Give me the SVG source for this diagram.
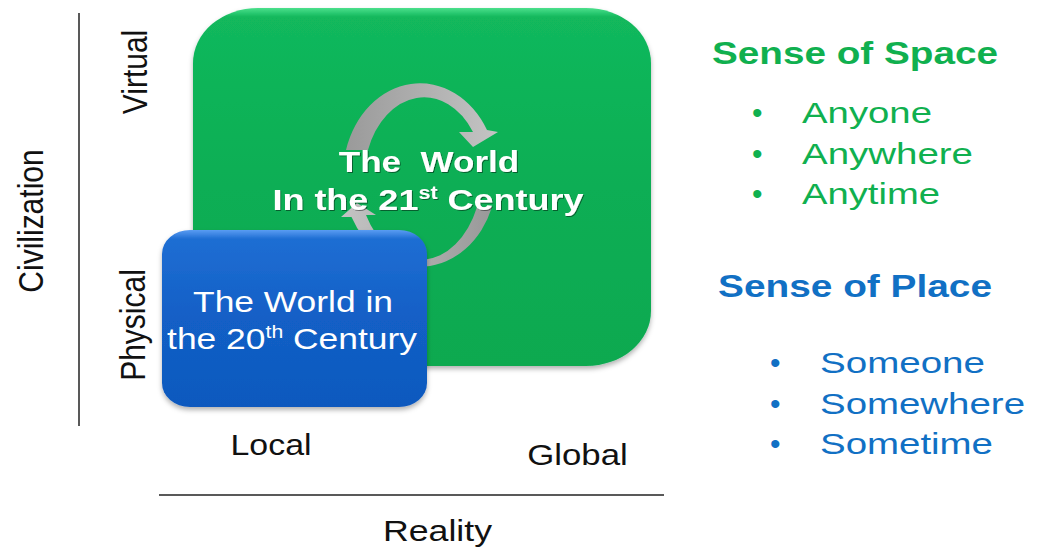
<svg xmlns="http://www.w3.org/2000/svg" width="1042" height="549" viewBox="0 0 1042 549">
<style>
  text { font-family: "Liberation Sans", Arial, sans-serif; }
  .axis { fill: #111111; font-size: 30px; }
  .white { fill: #ffffff; font-size: 30px; }
  .bold { font-weight: bold; }
  .green { fill: #10B04F; }
  .blue { fill: #1170C4; }
  .item { font-size: 30px; }
  .head { font-size: 31px; font-weight: bold; }
  .line { stroke: #222222; stroke-width: 1.5; fill: none; }
</style>
<defs>
  <linearGradient id="gGreen" x1="0" y1="0" x2="0" y2="1">
    <stop offset="0" stop-color="#4BE08C"/>
    <stop offset="0.025" stop-color="#12B85C"/>
    <stop offset="0.5" stop-color="#0AAE54"/>
    <stop offset="1" stop-color="#08A950"/>
  </linearGradient>
  <linearGradient id="gBlue" x1="0" y1="0" x2="0" y2="1">
    <stop offset="0" stop-color="#5A9CF2"/>
    <stop offset="0.05" stop-color="#1F6ED3"/>
    <stop offset="0.5" stop-color="#125FC6"/>
    <stop offset="1" stop-color="#0F59BE"/>
  </linearGradient>
  <linearGradient id="gArrowTop" gradientUnits="userSpaceOnUse" x1="343" y1="0" x2="498" y2="0">
    <stop offset="0" stop-color="#999999"/>
    <stop offset="1" stop-color="#C4C4C4"/>
  </linearGradient>
  <linearGradient id="gArrowBot" gradientUnits="userSpaceOnUse" x1="492" y1="0" x2="340" y2="0">
    <stop offset="0" stop-color="#999999"/>
    <stop offset="1" stop-color="#C4C4C4"/>
  </linearGradient>
  <filter id="boxShadow" x="-10%" y="-10%" width="120%" height="125%">
    <feDropShadow dx="0" dy="3" stdDeviation="2.5" flood-color="#000000" flood-opacity="0.3"/>
  </filter>
  <filter id="txtShadow" x="-5%" y="-20%" width="110%" height="140%">
    <feDropShadow dx="1" dy="1" stdDeviation="0.7" flood-color="#000000" flood-opacity="0.45"/>
  </filter>
</defs>

<g id="axes">
  <line class="line" x1="79" y1="13" x2="79" y2="426"/>
  <line class="line" x1="159" y1="495" x2="664" y2="495"/>
  <text class="axis" text-anchor="middle" transform="translate(43,221) scale(1.17,1) rotate(-90)">Civilization</text>
  <text class="axis" text-anchor="middle" transform="translate(147,72) scale(1.17,1) rotate(-90)">Virtual</text>
  <text class="axis" text-anchor="middle" transform="translate(145,325) scale(1.17,1) rotate(-90)">Physical</text>
  <text class="axis" text-anchor="middle" transform="translate(271,455) scale(1.13,1)">Local</text>
  <text class="axis" text-anchor="middle" transform="translate(577.5,465) scale(1.16,1)">Global</text>
  <text class="axis" text-anchor="middle" transform="translate(437.5,541) scale(1.19,1)">Reality</text>
</g>

<g id="world21">
  <rect x="193" y="8" width="458" height="358" rx="65" ry="55" fill="url(#gGreen)" filter="url(#boxShadow)"/>
</g>

<g id="connectors">
  <path d="M346,150 A77,92 0 0 1 487,130 L498,132 L473,147 L459,132 L473,132 A60,82 0 0 0 368,150 Z" fill="url(#gArrowTop)"/>
  <path d="M492,207 A77,92 0 0 1 351.5,217 L341,217 L357,203 L376,215 L366,215 A62,88 0 0 0 477,207 Z" fill="url(#gArrowBot)"/>
</g>

<g id="world21-label" filter="url(#txtShadow)">
  <text class="white bold" text-anchor="middle" xml:space="preserve" transform="translate(429,172) scale(1.17,1)">The  World</text>
  <text class="white bold" text-anchor="middle" transform="translate(428,210) scale(1.2,1)">In the 21<tspan font-size="18" dy="-11">st</tspan><tspan dy="11"> Century</tspan></text>
</g>

<g id="world20">
  <rect x="162" y="230" width="265" height="177" rx="28" ry="24" fill="url(#gBlue)" filter="url(#boxShadow)"/>
  <text class="white" text-anchor="middle" transform="translate(293,312) scale(1.18,1)">The World in</text>
  <text class="white" text-anchor="middle" transform="translate(292,349) scale(1.18,1)">the 20<tspan font-size="18" dy="-11">th</tspan><tspan dy="11"> Century</tspan></text>
</g>

<g id="sense-of-space">
  <text class="green head" x="712" y="64" textLength="286" lengthAdjust="spacingAndGlyphs">Sense of Space</text>
  <text class="green item" x="752" y="123">•</text>
  <text class="green item" x="802" y="123" textLength="130" lengthAdjust="spacingAndGlyphs">Anyone</text>
  <text class="green item" x="752" y="164">•</text>
  <text class="green item" x="802" y="164" textLength="171" lengthAdjust="spacingAndGlyphs">Anywhere</text>
  <text class="green item" x="752" y="204">•</text>
  <text class="green item" x="802" y="204" textLength="138" lengthAdjust="spacingAndGlyphs">Anytime</text>
</g>

<g id="sense-of-place">
  <text class="blue head" x="718" y="297" textLength="274" lengthAdjust="spacingAndGlyphs">Sense of Place</text>
  <text class="blue item" x="770" y="373">•</text>
  <text class="blue item" x="820" y="373" textLength="165" lengthAdjust="spacingAndGlyphs">Someone</text>
  <text class="blue item" x="770" y="414">•</text>
  <text class="blue item" x="820" y="414" textLength="205" lengthAdjust="spacingAndGlyphs">Somewhere</text>
  <text class="blue item" x="770" y="454">•</text>
  <text class="blue item" x="820" y="454" textLength="173" lengthAdjust="spacingAndGlyphs">Sometime</text>
</g>
</svg>
